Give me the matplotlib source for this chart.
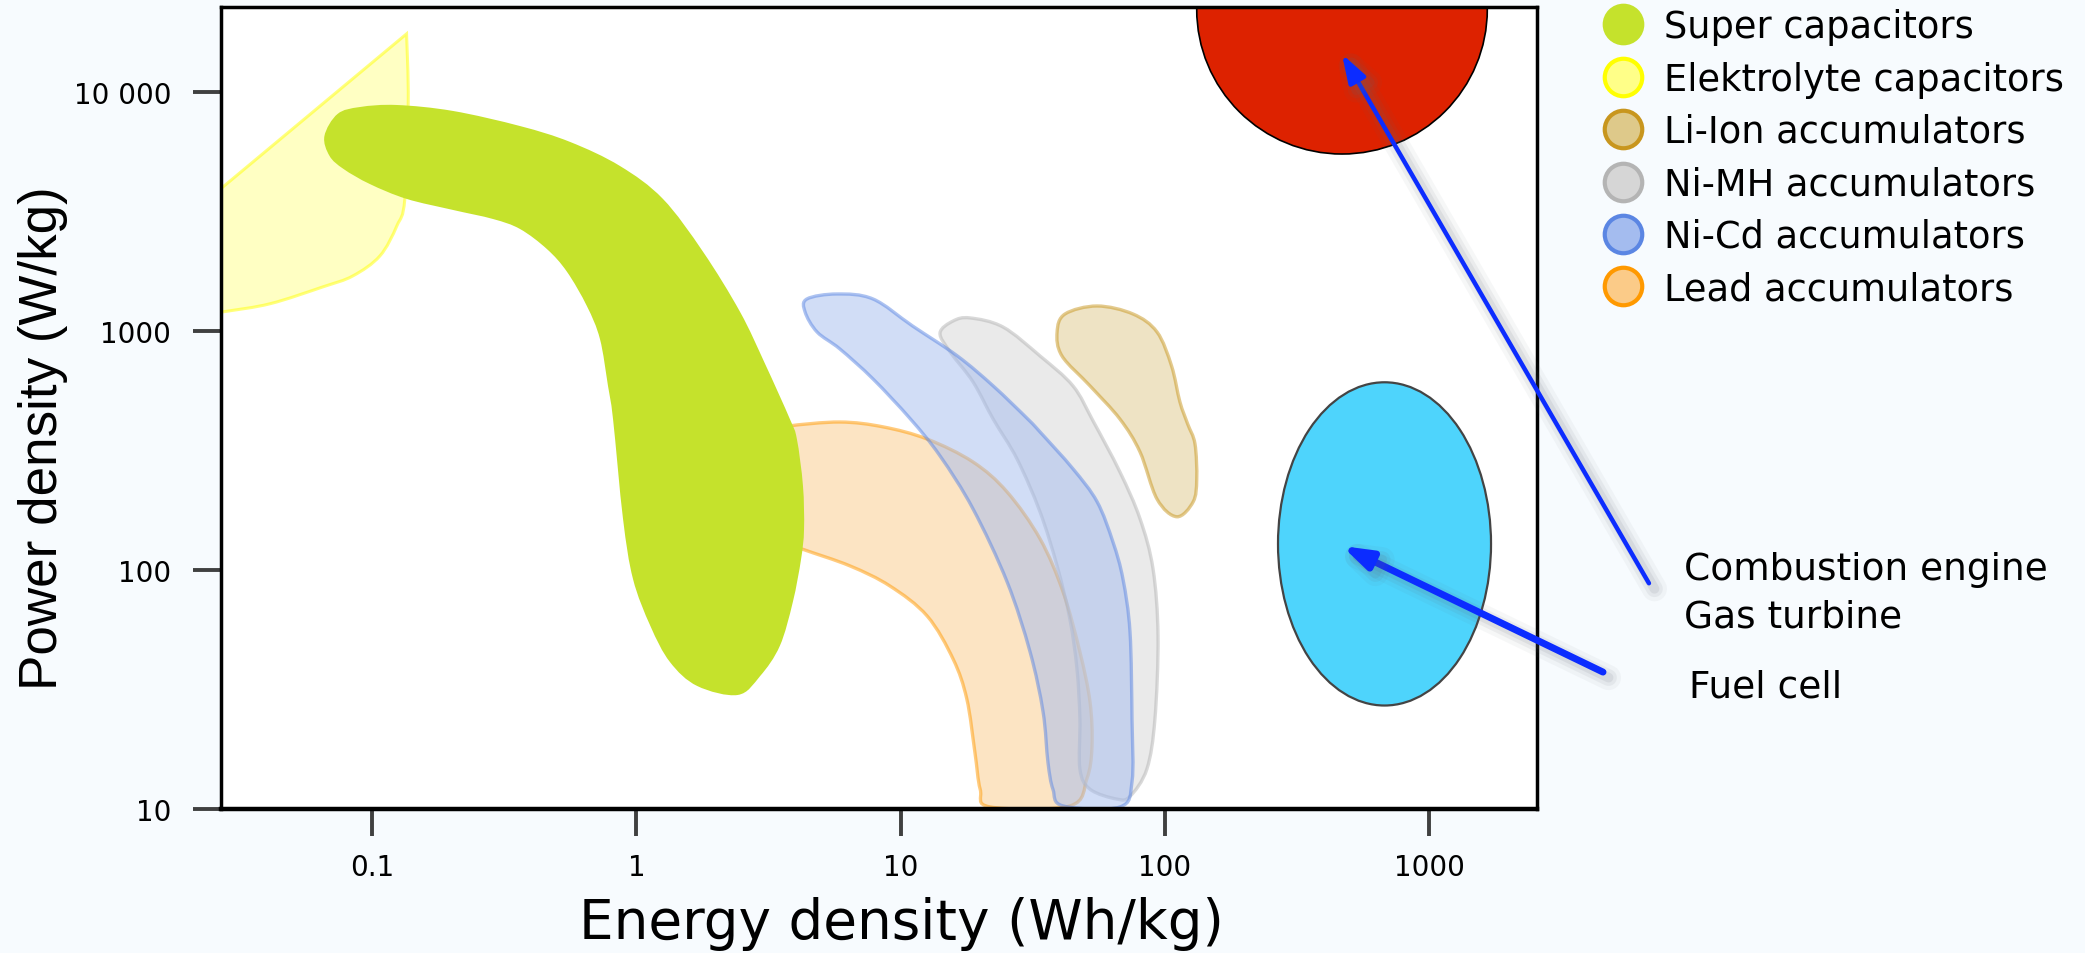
import numpy as np
import matplotlib
matplotlib.use('Agg')
import matplotlib.pyplot as plt
import matplotlib.patheffects as pe
from matplotlib.path import Path
from matplotlib.patches import PathPatch
from matplotlib.lines import Line2D

# Ragone chart, outlines
# energy density in Wh/kg, power density in W/kg

x_ticks = [0.1, 1, 10, 100, 1000]
x_tick_labels = ['0.1', '1', '10', '100', '1000']
y_ticks = [10, 100, 1000, 10000]
y_tick_labels = ['10', '100', '1000', '10 000']

names = ['Super capacitors', 'Elektrolyte capacitors', 'Li-Ion accumulators',
         'Ni-MH accumulators', 'Ni-Cd accumulators', 'Lead accumulators']
face_colors = ['#C5E22C', '#FFFF88', '#DEC98A', '#D6D6D6', '#A4BCEF', '#FBCB88']
edge_colors = ['#C5E22C', '#FFFF00', '#C8961E', '#B4B4B4', '#5B86E3', '#FF9900']

super_energy = [0.074, 0.090, 0.124, 0.202, 0.363, 0.561, 0.867, 1.26, 1.79, 2.47,
                3.07, 3.81, 4.05, 4.27, 4.31, 4.20, 3.91, 3.49, 2.94, 2.42,
                1.70, 1.34, 1.13, 0.971, 0.890, 0.816, 0.781, 0.728, 0.650, 0.546,
                0.459, 0.363, 0.287, 0.202, 0.135, 0.098, 0.078, 0.069, 0.066]
super_power = [8090, 8650, 8820, 8330, 7200, 6180, 4900, 3570, 2140, 1200,
               728, 428, 353, 225, 148, 111, 73.5, 48.1, 36.0, 30.0,
               32.7, 41.2, 58.3, 91.7, 164, 428, 589, 926, 1270, 1770,
               2200, 2670, 2940, 3210, 3570, 4120, 4760, 5400, 6540]

# tip first, the last two points lie left of the plot and are joined by straight lines
elyt_energy = [0.135, 0.137, 0.133, 0.124, 0.107, 0.0846, 0.0652, 0.0411, 0.0270, 0.0172, 0.0172]
elyt_power = [17500, 9090, 3570, 2750, 2060, 1700, 1530, 1300, 1200, 1110, 2620]

liion_energy = [39.1, 41.9, 55.4, 75.7, 93.4, 106, 114, 122, 130, 132, 128, 111, 93.4, 80.5, 67.6, 52.1, 40.8]
liion_power = [990, 1178, 1272, 1178, 990, 714, 505, 408, 337, 240, 193, 167, 198, 312, 428, 589, 786]

nimh_energy = [14.1, 15.8, 18.3, 24.4, 33.7, 44.9, 53.5, 67.6, 80.5, 90.2, 94.2, 91.7, 85.5,
               73.8, 65.9, 52.1, 47.7, 47.7, 46.5, 43.7, 39.1, 33.7, 27.6, 22.4, 18.8, 15.4]
nimh_power = [981, 1101, 1134, 1039, 786, 589, 420, 257, 164, 101, 52.9, 23.8, 14.7,
              11.3, 11.0, 12.1, 14.7, 23.8, 38.5, 62.4, 104, 175, 291, 428, 612, 817]

nicd_energy = [4.42, 5.74, 7.86, 11.1, 16.4, 22.4, 30.3, 33.7, 44.9, 55.4, 63.6, 69.4, 73.8, 75.1, 75.1,
               67.6, 41.2, 37.7, 36.1, 34.6, 30.9, 25.3, 18.8, 14.1, 10.9, 7.86, 5.89, 4.83, 4.35]
nicd_power = [1361, 1428, 1361, 1049, 786, 589, 428, 378, 265, 193, 131, 91.7, 55.0, 23.8, 13.0,
              10.2, 10.3, 12.1, 15.7, 25.5, 45.4, 89.1, 180, 300, 428, 630, 841, 990, 1201]

lead_energy = [3.35, 3.75, 5.89, 8.58, 12.6, 18.8, 25.3, 33.7, 41.2, 47.7, 52.1, 53.0,
               50.7, 43.7, 21.8, 20.0, 19.1, 17.8, 15.8, 12.6, 9.11, 6.43, 4.27, 3.35]
lead_power = [382, 400, 416, 397, 353, 283, 212, 135, 80.9, 45.4, 28.0, 18.3,
              13.4, 10.3, 10.2, 12.1, 17.3, 28.9, 42.4, 64.2, 85.7, 104, 122, 135]

# ellipses given by their energy and power extent
combustion_energy = [132, 1660]
combustion_power = [5500, 89000]
fuel_cell_energy = [268, 1715]
fuel_cell_power = [27.1, 610]

combustion_arrow = [(6790, 88), (468, 14400)]
fuel_cell_arrow = [(4550, 37.4), (468, 126)]


def smooth_outline(energy, power, closed=True):
    # Catmull-Rom through the points in log space, as cubic bezier pieces
    pts = np.log10(np.column_stack([energy, power]))
    n = len(pts)
    verts = [pts[0]]
    codes = [Path.MOVETO]
    for i in range(n if closed else n - 1):
        if closed:
            p0, p1, p2, p3 = pts[(i - 1) % n], pts[i], pts[(i + 1) % n], pts[(i + 2) % n]
        else:
            p0, p1 = pts[max(i - 1, 0)], pts[i]
            p2, p3 = pts[i + 1], pts[min(i + 2, n - 1)]
        verts += [p1 + (p2 - p0) / 6, p2 - (p3 - p1) / 6, p2]
        codes += [Path.CURVE4] * 3
    if closed:
        verts.append(pts[0])
        codes.append(Path.CLOSEPOLY)
    return verts, codes


def log_ellipse(e_range, p_range):
    circle = Path.unit_circle()
    lo = np.log10([e_range[0], p_range[0]])
    hi = np.log10([e_range[1], p_range[1]])
    return Path(10 ** ((lo + hi) / 2 + circle.vertices * (hi - lo) / 2), circle.codes)


bg = '#F7FBFE'
fig = plt.figure(figsize=(20.85, 9.54), dpi=100)
fig.patch.set_facecolor(bg)
ax = fig.add_axes([221 / 2085, 1 - 810 / 954, 1316 / 2085, 802 / 954])
ax.set_facecolor('white')
ax.set_xscale('log')
ax.set_yscale('log')
ax.set_xlim(0.0268, 2560)
ax.set_ylim(10, 22670)

# elektrolyte capacitors: sharp tip, straight upper edge
verts, codes = smooth_outline(elyt_energy[:-1], elyt_power[:-1], closed=False)
verts += [np.log10([elyt_energy[-1], elyt_power[-1]]), verts[0]]
codes += [Path.LINETO, Path.CLOSEPOLY]
ax.add_patch(PathPatch(Path(10 ** np.array(verts), codes), facecolor=face_colors[1],
                       edgecolor=edge_colors[1], lw=2.2, alpha=0.5, zorder=1.0))

blobs = [(lead_energy, lead_power, 5, 1.1),
         (nimh_energy, nimh_power, 3, 1.2),
         (nicd_energy, nicd_power, 4, 1.3),
         (liion_energy, liion_power, 2, 1.4)]
for e, p, k, z in blobs:
    verts, codes = smooth_outline(e, p)
    ax.add_patch(PathPatch(Path(10 ** np.array(verts), codes), facecolor=face_colors[k],
                           edgecolor=edge_colors[k], lw=2.4, alpha=0.5, zorder=z))

verts, codes = smooth_outline(super_energy, super_power)
ax.add_patch(PathPatch(Path(10 ** np.array(verts), codes), facecolor=face_colors[0],
                       edgecolor='none', zorder=1.5))

ax.add_patch(PathPatch(log_ellipse(combustion_energy, combustion_power),
                       facecolor='#DD2200', edgecolor='black', lw=1.2, zorder=1.6))
ax.add_patch(PathPatch(log_ellipse(fuel_cell_energy, fuel_cell_power),
                       facecolor='#4ED4FC', edgecolor='#444444', lw=1.6, zorder=1.6))

# arrows with a soft shadow
shadow = [pe.SimpleLineShadow(offset=(4, -4), shadow_color='#5f6673', alpha=a, linewidth=w)
          for w, a in ((18, 0.05), (12, 0.08), (7, 0.10))] + [pe.Normal()]
for (tail, head), lw in ((combustion_arrow, 3.2), (fuel_cell_arrow, 5.0)):
    ann = ax.annotate('', xy=head, xytext=tail, xycoords='data', textcoords='data',
                      annotation_clip=False, zorder=3,
                      arrowprops=dict(arrowstyle='-|>,head_length=0.85,head_width=0.28',
                                      mutation_scale=20, color='#0C2CFF', lw=lw,
                                      shrinkA=0, shrinkB=0))
    ann.arrow_patch.set_path_effects(shadow)

fig.text(1684 / 2085, 1 - 580 / 954, 'Combustion engine', fontsize=27, va='baseline')
fig.text(1684 / 2085, 1 - 628 / 954, 'Gas turbine', fontsize=27, va='baseline')
fig.text(1689 / 2085, 1 - 698 / 954, 'Fuel cell', fontsize=27, va='baseline')

ax.set_xticks(x_ticks, labels=x_tick_labels)
ax.set_yticks(y_ticks, labels=y_tick_labels)
ax.minorticks_off()
ax.tick_params(axis='both', direction='out', color='#404040', width=2.8, labelsize=20)
ax.tick_params(axis='y', length=20, pad=16)
ax.tick_params(axis='x', length=19.5, pad=12)
for side in ['left', 'right', 'top']:
    ax.spines[side].set_linewidth(2.5)
ax.spines['bottom'].set_linewidth(3.2)

ax.set_xlabel('Energy density (Wh/kg)', fontsize=39.5)
ax.xaxis.set_label_coords(0.5167, -0.1085)
ax.set_ylabel('Power density (W/kg)', fontsize=38.2, family='Liberation Sans')
ax.yaxis.set_label_coords(-0.1163, 0.463)

handles = [Line2D([], [], linestyle='none', marker='o', markersize=27,
                  markerfacecolor=f, markeredgecolor=e, markeredgewidth=3)
           for f, e in zip(face_colors, edge_colors)]
fig.legend(handles, names, loc='upper left', bbox_to_anchor=(1601 / 2085, 0.9905),
           frameon=False, fontsize=26.5, handlelength=1.2, handletextpad=0.5,
           labelspacing=0.42, borderpad=0, borderaxespad=0)

fig.savefig('out.png', dpi=100, facecolor=fig.get_facecolor())
